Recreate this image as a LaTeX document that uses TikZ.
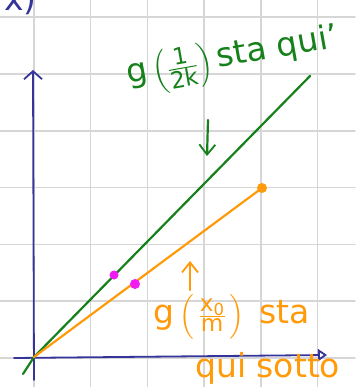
\documentclass[tikz,border=0pt]{standalone}
\usepackage{amsmath}
\usepackage{fontspec}
\setmainfont{DejaVu Sans}
\usetikzlibrary{arrows.meta, positioning}
\definecolor{gridgray}{HTML}{D6D6D6}
\definecolor{axisblue}{HTML}{34349A}
\definecolor{pengreen}{HTML}{16801A}
\definecolor{penorange}{HTML}{FF9A0A}
\definecolor{penmagenta}{HTML}{F21CF2}

\begin{document}
\begin{tikzpicture}[
    x=1pt, y=-1pt,
    line cap=round, line join=round,
    gridline/.style={gridgray, line width=1.5pt},
    axis/.style={axisblue, line width=1.8pt},
    pen/.style={line width=2.2pt},
    hand/.style={inner sep=0pt, font=\fontsize{33}{36}\selectfont},
    barb/.style={-{Straight Barb[length=10pt, width=16pt, line width=1.8pt]}},
    dot/.style={circle, inner sep=0pt, minimum size=#1}
  ]
    \useasboundingbox (0,0) rectangle (355,387);
    % grid
    \foreach \i in {0,...,5}
      \draw[gridline] (34+56.7*\i,0) -- (34+56.7*\i,387);
    \foreach \j in {0,...,6}
      \draw[gridline] (0,358-56.8*\j) -- (355,358-56.8*\j);

    % axes
    \coordinate (ybot) at (34,380);
    \coordinate (ytop) at (33,70);
    \coordinate (xleft) at (14,358);
    \coordinate (xright) at (327,355);
    \coordinate (O) at (34,357);
    \draw[axis, -{Straight Barb[length=8pt, width=18pt, line width=1.8pt]}] (ybot) -- (ytop);
    \draw[axis, -{Triangle[open, length=9pt, width=12pt, line width=1.8pt]}] (xleft) -- (xright);
    \node[axisblue, hand, anchor=base west] (fx) at (4,11) {x)};

    % the two lines
    \coordinate (gstart) at (23,374);
    \coordinate (gend) at (310,76);
    \coordinate (oend) at (262,188);
    \draw[pengreen, pen] (gstart) -- (O) -- (gend);
    \draw[penorange, pen] (O) -- (oend);
    \node[dot=10pt, fill=penorange] (oenddot) at (oend) {};
    \node[dot=9pt, fill=penmagenta] (pgreen) at (114,275) {};
    \node[dot=8pt, minimum height=10pt, fill=penmagenta] (porange) at (135,284) {};

    % labels
    \node[pengreen, hand, anchor=base west, rotate=10] (glabel) at (128,84)
      {g\,$\Bigl(\tfrac{\text{1}}{\text{2k}}\Bigr)$\,sta qui'};
    \coordinate (gtail) at (208,120);
    \coordinate (ghead) at (207,156);
    \draw[pengreen, pen, barb] (gtail) -- (ghead);

    \node[penorange, hand, anchor=base west] (olabel) at (153,323)
      {g\,$\Bigl(\,\tfrac{\text{x}_{\text{0}}}{\text{m}}\,\Bigr)$\;\,sta};
    \node[penorange, hand, anchor=base west] (olabel2) at (195,377) {qui sotto};
    \coordinate (otail) at (190,290);
    \coordinate (ohead) at (190,261);
    \draw[penorange, pen, barb] (otail) -- (ohead);
  \end{tikzpicture}
\end{document}
